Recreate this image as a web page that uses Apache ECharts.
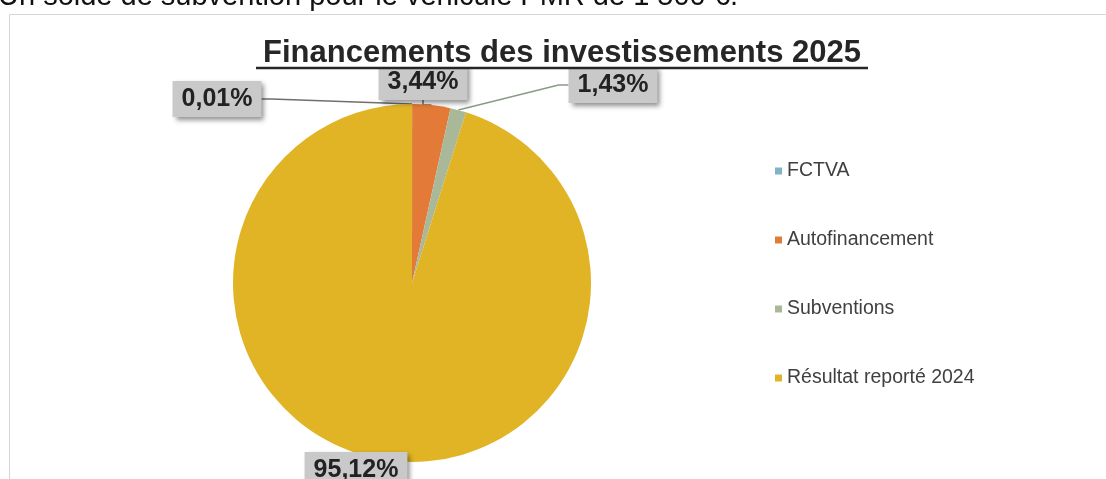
<!DOCTYPE html>
<html>
<head>
<meta charset="utf-8">
<script src="https://cdn.jsdelivr.net/npm/echarts@6/dist/echarts.min.js"></script>
<style>
  html, body { margin: 0; padding: 0; background: #fff; }
  #chart { width: 1106px; height: 479px; }
</style>
</head>
<body>
<div id="chart"></div>
<script>
  // données
  const categories = ['FCTVA', 'Autofinancement', 'Subventions', 'Résultat reporté 2024'];
  const percents = [0.01, 3.44, 1.43, 95.12];

  const sliceColors = ['#7fb3c6', '#e37a38', '#a9b899', '#e0b425'];
  const lineColors = ['#6f6f6f', '#6f6f6f', '#8a9a86', '#6f6f6f'];
  // centre des étiquettes (px)
  const labelSpots = [[217, 99], [423, 82], [613, 85], [356, 470]];

  const chart = echarts.init(document.getElementById('chart'));

  const option = {
    backgroundColor: '#ffffff',
    animation: false,
    legend: {
      orient: 'vertical',
      left: 770,
      top: 156,
      itemWidth: 7,
      itemHeight: 7,
      itemGap: 49,
      icon: 'rect',
      textStyle: {
        fontFamily: 'Liberation Sans, Arial, sans-serif',
        fontSize: 19.5,
        color: '#404040'
      },
      data: categories
    },
    series: [{
      type: 'pie',
      center: [412, 283],
      radius: 179,
      startAngle: 90,
      clockwise: true,
      avoidLabelOverlap: false,
      data: categories.map((name, i) => ({
        name: name,
        value: percents[i],
        itemStyle: { color: sliceColors[i] },
        labelLine: {
          show: i !== 3,
          lineStyle: { color: lineColors[i], width: 1.5 }
        }
      })),
      label: {
        show: true,
        formatter: p => p.value.toFixed(2).replace('.', ',') + '%',
        fontFamily: 'Liberation Sans, Arial, sans-serif',
        fontWeight: 'bold',
        fontSize: 25,
        color: '#222',
        backgroundColor: '#c9c9c9',
        padding: [6, 9, 5, 9],
        shadowColor: 'rgba(0,0,0,0.45)',
        shadowBlur: 5,
        shadowOffsetX: 3,
        shadowOffsetY: 3
      },
      labelLine: {
        show: true,
        length: 10,
        length2: 10
      },
      labelLayout: function (params) {
        const s = labelSpots[params.dataIndex];
        return {
          x: s[0],
          y: s[1],
          align: 'center',
          verticalAlign: 'middle'
        };
      }
    }],
    graphic: [
      {
        type: 'rect',
        shape: { x: 9.5, y: 14.5, width: 1200, height: 500 },
        style: { fill: 'none', stroke: '#d6d6d6', lineWidth: 1 },
        silent: true,
        z: -10
      },
      {
        type: 'text',
        left: -2,
        top: -18,
        style: {
          text: 'Un solde de subvention pour le véhicule PMR de 1 500 €.',
          font: '29px "Liberation Sans", Arial, sans-serif',
          fill: '#111'
        },
        z: 100
      },
      {
        type: 'rect',
        shape: { x: 252, y: 32, width: 620, height: 37 },
        style: { fill: '#ffffff' },
        silent: true,
        z: 100
      },
      {
        type: 'text',
        x: 562,
        y: 53,
        style: {
          text: 'Financements des investissements 2025',
          font: 'bold 31px "Liberation Sans", Arial, sans-serif',
          fill: '#262626',
          align: 'center',
          verticalAlign: 'middle'
        },
        z: 101
      },
      {
        type: 'line',
        shape: { x1: 256, y1: 68, x2: 868, y2: 68 },
        style: { stroke: '#262626', lineWidth: 2.5 },
        z: 101
      }
    ]
  };

  chart.setOption(option);
</script>
</body>
</html>
